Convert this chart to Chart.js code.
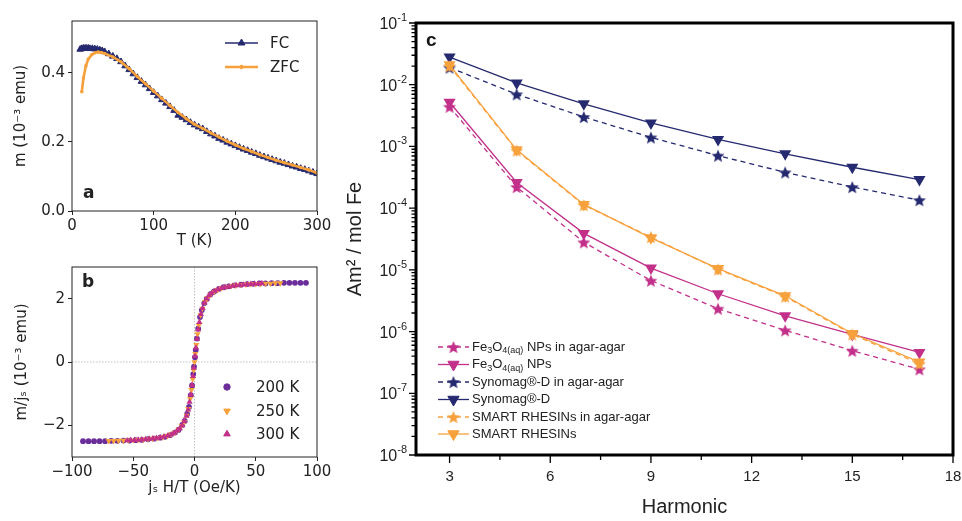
<!DOCTYPE html>
<html>
<head>
<meta charset="utf-8">
<script src="https://cdn.jsdelivr.net/npm/chart.js@4.4.1/dist/chart.umd.min.js"></script>
<style>
  html, body { margin: 0; padding: 0; background: #fff; }
  #wrap { position: relative; width: 962px; height: 521px; overflow: hidden; }
  canvas { position: absolute; }
</style>
</head>
<body>
<div id="wrap">
  <canvas id="chartA" width="340" height="250" style="left:0;top:0"></canvas>
  <canvas id="chartB" width="340" height="250" style="left:0;top:250px"></canvas>
  <canvas id="chartC" width="622" height="521" style="left:340px;top:0"></canvas>
</div>
<script>
// Panel a : FC / ZFC
const fcT = [10, 12, 14, 16, 18, 20, 22, 25, 28, 31, 34, 37, 40, 45, 50, 55, 60, 65, 70, 75, 80, 85, 90, 95, 100,
  105, 110, 115, 120, 125, 130, 135, 140, 145, 150, 155, 160, 165, 170, 175, 180, 185, 190, 195, 200,
  205, 210, 215, 220, 225, 230, 235, 240, 245, 250, 255, 260, 265, 270, 275, 280, 285, 290, 295, 300];
const fcM = [0.468, 0.47, 0.471, 0.471, 0.471, 0.471, 0.47, 0.47, 0.469, 0.468, 0.466, 0.464, 0.461, 0.455, 0.448,
  0.441, 0.432, 0.42, 0.409, 0.397, 0.386, 0.375, 0.365, 0.354, 0.343, 0.333, 0.322, 0.312, 0.302, 0.291,
  0.277, 0.271, 0.264, 0.256, 0.249, 0.243, 0.238, 0.23, 0.223, 0.217, 0.21, 0.205, 0.199, 0.194, 0.189,
  0.184, 0.179, 0.175, 0.17, 0.166, 0.161, 0.157, 0.153, 0.149, 0.145, 0.141, 0.138, 0.134, 0.13, 0.127,
  0.123, 0.12, 0.116, 0.112, 0.108];
const zfcT = [12, 14, 17, 20, 24, 28, 32, 36, 40, 50, 60, 70, 80, 90, 100, 110, 120, 130, 140, 150, 160, 170,
  180, 190, 200, 210, 220, 230, 240, 250, 260, 270, 280, 290, 300];
const zfcM = [0.345, 0.385, 0.42, 0.44, 0.452, 0.458, 0.46, 0.459, 0.456, 0.446, 0.432, 0.412, 0.389, 0.368,
  0.347, 0.326, 0.305, 0.285, 0.267, 0.251, 0.239, 0.226, 0.214, 0.202, 0.191, 0.181, 0.172, 0.163, 0.155,
  0.147, 0.14, 0.133, 0.126, 0.119, 0.11];
const aXTicks = [0, 100, 200, 300];
const aYTicks = [0, 0.2, 0.4];

// Panel b : m/js vs js H/T
const t200x = [-91, -86.5, -82, -77.5, -73, -68, -63, -58, -53, -48, -43, -38, -33, -28, -24, -20, -16, -13, -10, -8,
  -6, -4.5, -3, -2, -1, -0.4, 0.4, 1, 2, 3, 4.5, 6, 8, 10, 13, 16, 20, 24, 28, 33, 38, 43, 48, 53, 58, 63, 68,
  73, 77.5, 82, 86.5, 91];
const t200m = [-2.5, -2.5, -2.5, -2.5, -2.5, -2.49, -2.49, -2.48, -2.48, -2.47, -2.46, -2.44, -2.42, -2.39, -2.36,
  -2.31, -2.23, -2.14, -1.99, -1.86, -1.64, -1.42, -1.05, -0.74, -0.38, -0.15, 0.15, 0.38, 0.74, 1.05, 1.42,
  1.64, 1.86, 1.99, 2.14, 2.23, 2.31, 2.36, 2.39, 2.42, 2.44, 2.46, 2.47, 2.48, 2.48, 2.49, 2.49, 2.5, 2.5,
  2.5, 2.5, 2.5];
const t250x = [-70, -66, -62, -58, -54, -50, -46, -42, -38, -34, -30, -26, -22, -19, -16, -13, -10.5, -8.5, -6.5,
  -5, -3.5, -2.5, -1.5, -0.7, 0, 0.7, 1.5, 2.5, 3.5, 5, 6.5, 8.5, 10.5, 13, 16, 19, 22, 26, 30, 34, 38, 42, 46,
  50, 54, 58, 62, 66, 70];
const t250m = [-2.49, -2.49, -2.48, -2.48, -2.47, -2.47, -2.46, -2.45, -2.44, -2.42, -2.4, -2.37, -2.33, -2.28,
  -2.22, -2.13, -2.02, -1.9, -1.69, -1.48, -1.16, -0.88, -0.54, -0.26, 0, 0.26, 0.54, 0.88, 1.16, 1.48, 1.69,
  1.9, 2.02, 2.13, 2.22, 2.28, 2.33, 2.37, 2.4, 2.42, 2.44, 2.45, 2.46, 2.47, 2.47, 2.48, 2.48, 2.49, 2.49];
const t300x = [-55, -52, -49, -46, -43, -40, -37, -34, -31, -28, -25, -22, -19, -16.5, -14, -12, -10, -8.2, -6.6,
  -5.2, -4, -3, -2, -1.2, -0.5, 0.5, 1.2, 2, 3, 4, 5.2, 6.6, 8.2, 10, 12, 14, 16.5, 19, 22, 25, 28, 31, 34, 37,
  40, 43, 46, 49, 52, 55];
const t300m = [-2.48, -2.47, -2.47, -2.46, -2.45, -2.44, -2.43, -2.42, -2.4, -2.38, -2.36, -2.33, -2.29, -2.24,
  -2.17, -2.1, -2.0, -1.87, -1.7, -1.51, -1.26, -1.03, -0.73, -0.45, -0.19, 0.19, 0.45, 0.73, 1.03, 1.26, 1.51,
  1.7, 1.87, 2.0, 2.1, 2.17, 2.24, 2.29, 2.33, 2.36, 2.38, 2.4, 2.42, 2.43, 2.44, 2.45, 2.46, 2.47, 2.47, 2.48];
const bXTicks = [-100, -50, 0, 50, 100];
const bYTicks = [-2, 0, 2];

// Panel c : harmonics
const harmonics = [3, 5, 7, 9, 11, 13, 15, 17];
const feAgar    = [4.4e-3, 2.2e-4, 2.8e-5, 6.7e-6, 2.35e-6, 1.05e-6, 4.9e-7, 2.45e-7];
const feNPs     = [5.2e-3, 2.6e-4, 3.9e-5, 1.07e-5, 4.1e-6, 1.8e-6, 9.0e-7, 4.6e-7];
const synAgar   = [1.9e-2, 7.0e-3, 3.0e-3, 1.4e-3, 7.1e-4, 3.8e-4, 2.2e-4, 1.35e-4];
const synomag   = [2.8e-2, 1.07e-2, 4.9e-3, 2.4e-3, 1.3e-3, 7.6e-4, 4.6e-4, 2.9e-4];
const smartAgar = [2.0e-2, 8.6e-4, 1.12e-4, 3.4e-5, 1.02e-5, 3.7e-6, 9.0e-7, 3.0e-7];
const smart     = [2.1e-2, 8.8e-4, 1.15e-4, 3.3e-5, 1.05e-5, 3.8e-6, 9.3e-7, 3.2e-7];
const cXTicks = [3, 6, 9, 12, 15, 18];
const cXMinor = [4.5, 7.5, 10.5, 13.5, 16.5];
const cYTicks = [1e-8, 1e-7, 1e-6, 1e-5, 1e-4, 1e-3, 1e-2, 1e-1];

// couleurs
const NAVY = '#252a70';
const ORANGE = '#f7a13c';
const MAGENTA = '#c2308a';
const PURPLE = '#6a2d9a';
const INK = '#222';

const mplFont = { family: 'DejaVu Sans', size: 15 };
const arialFont = { family: 'Liberation Sans', size: 15 };

const pts = (xs, ys) => xs.map((x, i) => ({ x: x, y: ys[i] }));
const setTicks = vals => scale => { scale.ticks = vals.map(v => ({ value: v })); };
const minus = v => String(v).replace('-', '\u2212');

function starImage(color, r) {
  const c = document.createElement('canvas');
  const s = Math.ceil(r * 2 + 2);
  c.width = s; c.height = s;
  const g = c.getContext('2d');
  g.translate(s / 2, s / 2 + r * 0.1);
  g.beginPath();
  for (let i = 0; i < 10; i++) {
    const rad = i % 2 ? r * 0.45 : r;
    const a = -Math.PI / 2 + i * Math.PI / 5;
    g.lineTo(Math.cos(a) * rad, Math.sin(a) * rad);
  }
  g.closePath();
  g.fillStyle = color;
  g.fill();
  return c;
}

function framePlugin(lw, color) {
  return {
    id: 'frame',
    afterDatasetsDraw(chart) {
      const { ctx, chartArea: a } = chart;
      ctx.save();
      ctx.strokeStyle = color;
      ctx.lineWidth = lw;
      ctx.strokeRect(a.left, a.top, a.right - a.left, a.bottom - a.top);
      ctx.restore();
    }
  };
}

function marker(ctx, style, x, y, color, r, rot) {
  ctx.save();
  ctx.fillStyle = color;
  ctx.strokeStyle = color;
  ctx.lineWidth = 1;
  Chart.helpers.drawPoint(ctx, { pointStyle: style, radius: r, rotation: rot || 0, borderWidth: 1 }, x, y);
  ctx.restore();
}

function label(ctx, text, x, y, font, color, align) {
  ctx.save();
  ctx.font = font;
  ctx.fillStyle = color || INK;
  ctx.textAlign = align || 'left';
  ctx.textBaseline = 'middle';
  ctx.fillText(text, x, y);
  ctx.restore();
}

// ---------- Panel a ----------
new Chart(document.getElementById('chartA'), {
  type: 'line',
  data: {
    datasets: [
      { label: 'ZFC', data: pts(zfcT, zfcM), borderColor: ORANGE, backgroundColor: ORANGE, borderWidth: 2.6,
        pointStyle: 'circle', pointRadius: 1.8, pointBorderWidth: 0, order: 0 },
      { label: 'FC', data: pts(fcT, fcM), borderColor: NAVY, backgroundColor: NAVY, borderWidth: 1.5,
        pointStyle: 'triangle', pointRadius: 3.8, pointBorderWidth: 1, order: 1 }
    ]
  },
  options: {
    responsive: false, animation: false, events: [],
    layout: { padding: { top: 21, right: 23, left: 0, bottom: 0 } },
    plugins: { legend: { display: false }, tooltip: { enabled: false } },
    scales: {
      x: {
        type: 'linear', min: 0, max: 300,
        afterBuildTicks: setTicks(aXTicks),
        afterFit: s => { s.height = 39; },
        grid: { drawOnChartArea: false, tickLength: 4, tickColor: INK },
        border: { display: false },
        ticks: { font: mplFont, color: INK, padding: 2, maxRotation: 0 },
        title: { display: true, text: 'T (K)', font: mplFont, color: INK, padding: { top: 0, bottom: 0 } }
      },
      y: {
        type: 'linear', min: 0, max: 0.55,
        afterBuildTicks: setTicks(aYTicks),
        afterFit: s => { s.width = 72; },
        grid: { drawOnChartArea: false, tickLength: 4, tickColor: INK },
        border: { display: false },
        ticks: { font: mplFont, color: INK, padding: 3, callback: v => v.toFixed(1) },
        title: { display: true, text: 'm (10\u207B\u00B3 emu)', font: mplFont, color: INK, padding: { top: 12, bottom: 0 } }
      }
    }
  },
  plugins: [framePlugin(1, INK), {
    id: 'decorA',
    afterDraw(chart) {
      const ctx = chart.ctx;
      label(ctx, 'a', 83, 194, 'bold 17px "DejaVu Sans"');
      ctx.save();
      ctx.lineWidth = 1.5; ctx.strokeStyle = NAVY;
      ctx.beginPath(); ctx.moveTo(225, 43); ctx.lineTo(258, 43); ctx.stroke();
      ctx.lineWidth = 2.6; ctx.strokeStyle = ORANGE;
      ctx.beginPath(); ctx.moveTo(225, 67); ctx.lineTo(258, 67); ctx.stroke();
      ctx.restore();
      marker(ctx, 'triangle', 241.5, 43, NAVY, 4);
      marker(ctx, 'circle', 241.5, 67, ORANGE, 1.8);
      label(ctx, 'FC', 270, 44, '15px "DejaVu Sans"');
      label(ctx, 'ZFC', 270, 68, '15px "DejaVu Sans"');
    }
  }]
});

// ---------- Panel b ----------
new Chart(document.getElementById('chartB'), {
  type: 'scatter',
  data: {
    datasets: [
      { label: '200 K', data: pts(t200x, t200m), backgroundColor: PURPLE, borderColor: PURPLE,
        pointStyle: 'circle', pointRadius: 2.9, pointBorderWidth: 0, order: 2 },
      { label: '250 K', data: pts(t250x, t250m), backgroundColor: ORANGE, borderColor: ORANGE,
        pointStyle: 'triangle', rotation: 180, pointRadius: 3.6, pointBorderWidth: 0, order: 1 },
      { label: '300 K', data: pts(t300x, t300m), backgroundColor: MAGENTA, borderColor: MAGENTA,
        pointStyle: 'triangle', pointRadius: 3.6, pointBorderWidth: 0, order: 0 }
    ]
  },
  options: {
    responsive: false, animation: false, events: [],
    layout: { padding: { top: 17, right: 23, left: 0, bottom: 0 } },
    plugins: { legend: { display: false }, tooltip: { enabled: false } },
    scales: {
      x: {
        type: 'linear', min: -100, max: 100,
        afterBuildTicks: setTicks(bXTicks),
        afterFit: s => { s.height = 43; },
        grid: { drawOnChartArea: false, tickLength: 4, tickColor: INK },
        border: { display: false },
        ticks: { font: mplFont, color: INK, padding: 2, maxRotation: 0, callback: v => minus(v) },
        title: { display: true, text: 'j\u209B H/T (Oe/K)', font: mplFont, color: INK, padding: { top: 0, bottom: 3 } }
      },
      y: {
        type: 'linear', min: -3, max: 3,
        afterBuildTicks: setTicks(bYTicks),
        afterFit: s => { s.width = 72; },
        grid: { drawOnChartArea: false, tickLength: 4, tickColor: INK },
        border: { display: false },
        ticks: { font: mplFont, color: INK, padding: 3, callback: v => minus(v) },
        title: { display: true, text: 'm/j\u209B (10\u207B\u00B3 emu)', font: mplFont, color: INK, padding: { top: 13, bottom: 0 } }
      }
    }
  },
  plugins: [{
    id: 'zeroLines',
    beforeDatasetsDraw(chart) {
      const { ctx, chartArea: a, scales } = chart;
      const x0 = scales.x.getPixelForValue(0);
      const y0 = scales.y.getPixelForValue(0);
      ctx.save();
      ctx.strokeStyle = '#b0b0b0';
      ctx.lineWidth = 0.8;
      ctx.setLineDash([1.5, 1.5]);
      ctx.beginPath();
      ctx.moveTo(x0, a.top); ctx.lineTo(x0, a.bottom);
      ctx.moveTo(a.left, y0); ctx.lineTo(a.right, y0);
      ctx.stroke();
      ctx.restore();
    }
  }, framePlugin(1, INK), {
    id: 'decorB',
    afterDraw(chart) {
      const ctx = chart.ctx;
      label(ctx, 'b', 82, 33, 'bold 17px "DejaVu Sans"');
      marker(ctx, 'circle', 227, 137, PURPLE, 3.2);
      marker(ctx, 'triangle', 227, 161, ORANGE, 3.8, 180);
      marker(ctx, 'triangle', 227, 184, MAGENTA, 3.8);
      label(ctx, '200 K', 256, 138, '15px "DejaVu Sans"');
      label(ctx, '250 K', 256, 162, '15px "DejaVu Sans"');
      label(ctx, '300 K', 256, 185, '15px "DejaVu Sans"');
    }
  }]
});

// ---------- Panel c ----------
const starMag = starImage(MAGENTA, 6.8);
const starNavy = starImage(NAVY, 6.8);
const starOrange = starImage(ORANGE, 6.8);

function series(name, values, color, agar, order) {
  return {
    label: name,
    data: pts(harmonics, values),
    borderColor: color,
    backgroundColor: color,
    borderWidth: 1.3,
    borderDash: agar ? [5, 4] : [],
    pointStyle: agar ? (color === MAGENTA ? starMag : color === NAVY ? starNavy : starOrange) : 'triangle',
    rotation: agar ? 0 : 180,
    pointRadius: agar ? 6 : 7,
    pointBorderWidth: 0,
    order: order
  };
}

const cDatasets = [
  series('Fe3O4(aq) NPs in agar-agar', feAgar, MAGENTA, true, 5),
  series('Fe3O4(aq) NPs', feNPs, MAGENTA, false, 4),
  series('Synomag®-D in agar-agar', synAgar, NAVY, true, 3),
  series('Synomag®-D', synomag, NAVY, false, 2),
  series('SMART RHESINs in agar-agar', smartAgar, ORANGE, true, 1),
  series('SMART RHESINs', smart, ORANGE, false, 0)
];

// texte du legende : [texte, indice?]
const legendRows = [
  [['Fe'], ['3', 1], ['O'], ['4(aq)', 1], [' NPs in agar-agar']],
  [['Fe'], ['3', 1], ['O'], ['4(aq)', 1], [' NPs']],
  [['Synomag®-D in agar-agar']],
  [['Synomag®-D']],
  [['SMART RHESINs in agar-agar']],
  [['SMART RHESINs']]
];

new Chart(document.getElementById('chartC'), {
  type: 'line',
  data: { datasets: cDatasets },
  options: {
    responsive: false, animation: false, events: [],
    layout: { padding: { top: 23, right: 9, left: 0, bottom: 0 } },
    plugins: { legend: { display: false }, tooltip: { enabled: false } },
    scales: {
      x: {
        type: 'linear', min: 2, max: 18,
        afterBuildTicks: setTicks(cXTicks),
        afterFit: s => { s.height = 66; },
        grid: { display: true, drawOnChartArea: false, drawTicks: true, tickLength: 13, tickColor: 'rgba(0,0,0,0)' },
        border: { display: false },
        ticks: { font: arialFont, color: INK, padding: 0, maxRotation: 0 },
        title: { display: true, text: 'Harmonic', font: { family: 'Liberation Sans', size: 20 }, color: INK,
          padding: { top: 0, bottom: 2 } }
      },
      y: {
        type: 'logarithmic', min: 1e-8, max: 1e-1,
        afterBuildTicks: setTicks(cYTicks),
        afterFit: s => { s.width = 76; },
        grid: { display: false, drawTicks: false },
        border: { display: false },
        ticks: { display: false },
        title: { display: true, text: 'Am\u00B2 / mol Fe', font: { family: 'Liberation Sans', size: 20 }, color: INK,
          padding: { top: 3, bottom: 0 } }
      }
    }
  },
  plugins: [framePlugin(3, '#000'), {
    id: 'decorC',
    afterDraw(chart) {
      const { ctx, chartArea: a, scales } = chart;
      ctx.save();
      ctx.strokeStyle = '#000';
      ctx.lineWidth = 1.3;
      ctx.beginPath();
      cXTicks.forEach(v => { const x = scales.x.getPixelForValue(v); ctx.moveTo(x, a.bottom); ctx.lineTo(x, a.bottom + 8); });
      cXMinor.forEach(v => { const x = scales.x.getPixelForValue(v); ctx.moveTo(x, a.bottom); ctx.lineTo(x, a.bottom + 5); });
      cYTicks.forEach(v => { const y = scales.y.getPixelForValue(v); ctx.moveTo(a.left, y); ctx.lineTo(a.left - 7, y); });
      cYTicks.slice(0, -1).forEach(v => {
        for (let k = 2; k <= 9; k++) {
          const y = scales.y.getPixelForValue(v * k);
          ctx.moveTo(a.left, y); ctx.lineTo(a.left - 4.5, y);
        }
      });
      ctx.stroke();
      ctx.restore();

      // etiquettes 10^n avec exposant
      ctx.save();
      ctx.fillStyle = INK;
      ctx.textBaseline = 'alphabetic';
      ctx.textAlign = 'left';
      cYTicks.forEach(v => {
        const y = scales.y.getPixelForValue(v);
        const exp = String(Math.round(Math.log10(v)));
        ctx.font = '11px "Liberation Sans"';
        const we = ctx.measureText(exp).width;
        ctx.font = '16px "Liberation Sans"';
        const wb = ctx.measureText('10').width;
        const x0 = a.left - 9 - we - wb;
        ctx.fillText('10', x0, y + 6);
        ctx.font = '11px "Liberation Sans"';
        ctx.fillText(exp, x0 + wb, y - 2);
      });
      ctx.restore();

      const ox = -340; // decalage du canvas
      label(ctx, 'c', 426 + ox, 41, 'bold 19px "Liberation Sans"', '#111');

      const rowY = [347, 364.5, 382, 399.5, 417, 434];
      cDatasets.forEach((ds, i) => {
        const y = rowY[i];
        ctx.save();
        ctx.strokeStyle = ds.borderColor;
        ctx.lineWidth = 1.3;
        ctx.setLineDash(ds.borderDash);
        ctx.beginPath(); ctx.moveTo(438 + ox, y); ctx.lineTo(469 + ox, y); ctx.stroke();
        ctx.restore();
        if (typeof ds.pointStyle === 'string') {
          marker(ctx, 'triangle', 453.5 + ox, y, ds.borderColor, 6.5, 180);
        } else {
          ctx.drawImage(ds.pointStyle, 453.5 + ox - ds.pointStyle.width / 2, y - ds.pointStyle.height / 2);
        }
        let x = 472 + ox;
        ctx.save();
        ctx.fillStyle = INK;
        ctx.textBaseline = 'middle';
        legendRows[i].forEach(part => {
          const sub = part[1];
          ctx.font = sub ? '9px "Liberation Sans"' : '13px "Liberation Sans"';
          ctx.fillText(part[0], x, sub ? y + 4 : y);
          x += ctx.measureText(part[0]).width;
        });
        ctx.restore();
      });
    }
  }]
});
</script>
</body>
</html>
